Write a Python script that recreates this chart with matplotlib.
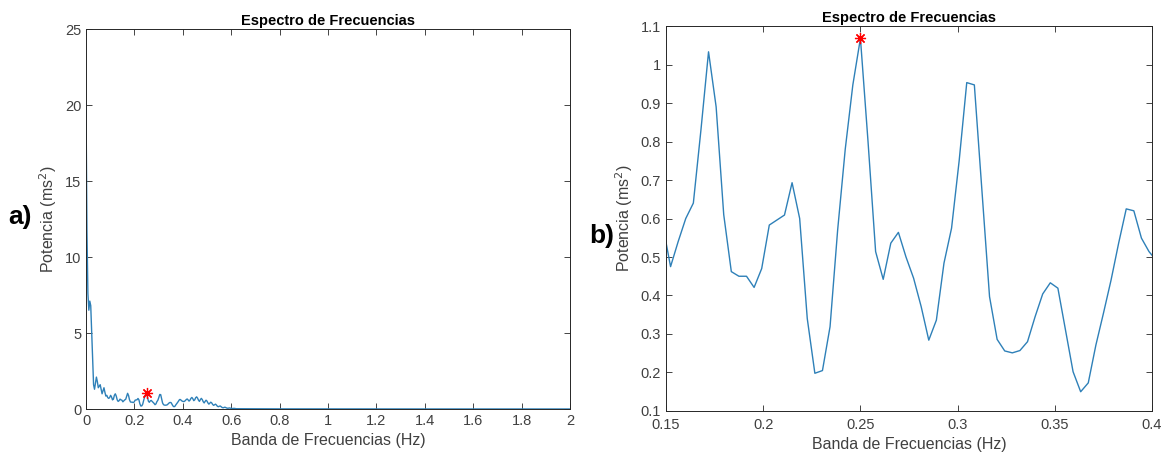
import numpy as np
import matplotlib
matplotlib.use("Agg")
import matplotlib.pyplot as plt
from matplotlib.ticker import FormatStrFormatter

plt.rcParams['font.family'] = ['Liberation Sans', 'DejaVu Sans']

df = 1 / 256
pot_baja = [20.1, 11.7, 7.6, 6.5, 7.1, 6.8, 5.0, 3.2, 1.6, 1.3,
            1.7, 2.1, 1.8, 1.4, 1.5, 1.6, 1.3, 1.0, 1.2, 1.4,
            1.1, 0.85, 0.9, 0.75, 0.7, 0.75, 0.9, 0.8, 0.6, 0.65,
            0.9, 1.0, 0.85, 0.6, 0.5, 0.55, 0.65, 0.6]
pot_hf = [0.58, 0.475, 0.54, 0.60, 0.64, 0.83, 1.033, 0.89, 0.61, 0.462,
          0.45, 0.45, 0.421, 0.47, 0.583, 0.596, 0.609, 0.693, 0.60, 0.34,
          0.198, 0.205, 0.319, 0.57, 0.78, 0.947, 1.068, 0.80, 0.514, 0.442,
          0.536, 0.564, 0.50, 0.445, 0.371, 0.284, 0.336, 0.484, 0.575, 0.75,
          0.953, 0.947, 0.67, 0.397, 0.286, 0.256, 0.251, 0.257, 0.28, 0.345,
          0.404, 0.433, 0.419, 0.31, 0.202, 0.15, 0.173, 0.271, 0.354, 0.44,
          0.536, 0.625, 0.62, 0.549, 0.514, 0.49]
pot_alta = [0.50, 0.55, 0.62, 0.66, 0.60, 0.52, 0.58, 0.70, 0.76, 0.68,
            0.55, 0.60, 0.74, 0.80, 0.72, 0.58, 0.50, 0.62, 0.70, 0.62,
            0.48, 0.40, 0.50, 0.58, 0.52, 0.40, 0.32, 0.38, 0.45, 0.40,
            0.30, 0.24, 0.28, 0.32, 0.26, 0.18, 0.15, 0.18, 0.20, 0.15,
            0.10, 0.08, 0.10, 0.12, 0.09, 0.06, 0.05, 0.06, 0.07, 0.05,
            0.04, 0.03, 0.04, 0.04, 0.03, 0.02, 0.02]
# cola casi nula hasta 2 Hz
frec_cola = [0.65, 0.7, 0.75, 0.8, 0.9, 1.0, 1.2, 1.4, 1.6, 1.8, 2.0]
pot_cola = [0.02, 0.015, 0.01, 0.01, 0.008, 0.006, 0.005, 0.004, 0.003, 0.003, 0.002]

pot_grid = np.array(pot_baja + pot_hf + pot_alta)
frec_grid = np.arange(len(pot_grid)) * df
frec = np.concatenate([frec_grid, frec_cola])
pot = np.concatenate([pot_grid, pot_cola])

# pico en banda HF
banda = (frec >= 0.15) & (frec <= 0.4)
i_pico = np.where(banda)[0][np.argmax(pot[banda])]

color_linea = '#2e80b8'
gris = '#262626'

fig = plt.figure(figsize=(11.67, 4.62), dpi=100)
ax1 = fig.add_axes([0.0737, 0.1147, 0.4147, 0.8225])
ax2 = fig.add_axes([0.5707, 0.1104, 0.4165, 0.8333])

for ax in (ax1, ax2):
    ax.plot(frec, pot, color=color_linea, lw=1.0)
    # asterisco tipo matlab
    ax.plot(frec[i_pico], pot[i_pico], marker=(8, 2, 0), color='red',
            ms=8, mew=0.9, ls='none')
    ax.set_title('Espectro de Frecuencias', fontsize=10.5, fontweight='bold', pad=3)
    ax.set_xlabel('Banda de Frecuencias (Hz)', fontsize=11.5, color='#404040')
    ax.set_ylabel('Potencia (ms$^2$)', fontsize=11.5, color='#404040')
    ax.tick_params(direction='in', top=True, right=True, labelsize=10.5,
                   colors=gris, labelcolor='#404040', length=4, width=0.6)
    ax.xaxis.set_major_formatter(FormatStrFormatter('%g'))
    ax.yaxis.set_major_formatter(FormatStrFormatter('%g'))
    for s in ax.spines.values():
        s.set_color(gris)
        s.set_linewidth(0.7)

ax1.set_xlim(0, 2)
ax1.set_ylim(0, 25)
ax1.set_xticks(np.arange(0, 2.01, 0.2))
ax1.set_yticks(np.arange(0, 26, 5))

ax2.set_xlim(0.15, 0.4)
ax2.set_ylim(0.1, 1.1)
ax2.set_xticks(np.arange(0.15, 0.401, 0.05))
ax2.set_yticks(np.arange(0.1, 1.101, 0.1))
ax2.tick_params(axis='x', pad=5)

fig.text(20 / 1167, 1 - 217 / 462, 'a)', fontsize=19, fontweight='bold',
         fontstretch='condensed', ha='center', va='center', color='black')
fig.text(602 / 1167, 1 - 236 / 462, 'b)', fontsize=19, fontweight='bold',
         fontstretch='condensed', ha='center', va='center', color='black')

fig.savefig('out.png', dpi=100)
